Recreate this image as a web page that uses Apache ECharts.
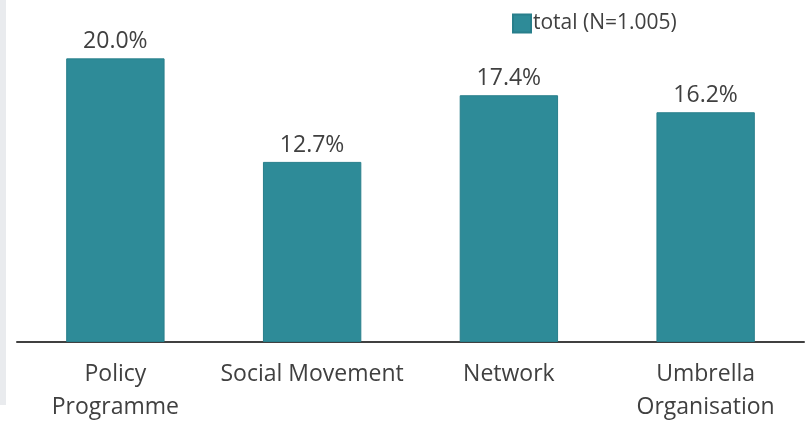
<!DOCTYPE html>
<html>
<head>
<meta charset="utf-8">
<script src="https://cdn.jsdelivr.net/npm/echarts@6/dist/echarts.min.js"></script>
<style>
  html, body { margin: 0; padding: 0; background: #fff; }
  #chart { width: 807px; height: 424px; }
</style>
</head>
<body>
<div id="chart"></div>
<script>
// Share of organisations by type
const categories = ['Policy\nProgramme', 'Social Movement', 'Network', 'Umbrella\nOrganisation'];
const totalValues = [20.0, 12.7, 17.4, 16.2];
const seriesName = 'total (N=1.005)';

const FONT = '"Open Sans", "Noto Sans", sans-serif';
const TEAL = '#2e8b98';

const chart = echarts.init(document.getElementById('chart'), null, { renderer: 'canvas' });
chart.setOption({
  animation: false,
  backgroundColor: '#ffffff',
  graphic: [{
    type: 'rect',
    left: 0, top: 0,
    shape: { width: 6, height: 405 },
    style: { fill: '#e9ebee' },
    z: -10
  }],
  legend: {
    data: [seriesName],
    left: 507, top: 8,
    itemWidth: 18, itemHeight: 18,
    itemGap: 6,
    icon: 'rect',
    textStyle: { fontFamily: FONT, fontSize: 21, color: '#404040', padding: [0, 0, 0, -3] }
  },
  grid: { left: 17, right: 3, top: 30, bottom: 78, containLabel: false },
  xAxis: {
    type: 'category',
    data: categories,
    axisLine: { show: true, lineStyle: { color: '#404040', width: 2 } },
    axisTick: { show: false },
    axisLabel: {
      fontFamily: FONT, fontSize: 23, color: '#404040',
      lineHeight: 33, margin: 16, interval: 0
    }
  },
  yAxis: {
    type: 'value',
    min: 0, max: 22,
    show: false,
    splitLine: { show: false }
  },
  series: [{
    name: seriesName,
    type: 'bar',
    data: totalValues,
    barWidth: '50%',
    itemStyle: { color: TEAL, borderColor: '#287f8b', borderWidth: 1 },
    label: {
      show: true,
      position: 'top',
      distance: 5,
      formatter: p => p.value.toFixed(1) + '%',
      fontFamily: FONT, fontSize: 23, color: '#404040'
    }
  }]
});
</script>
</body>
</html>
